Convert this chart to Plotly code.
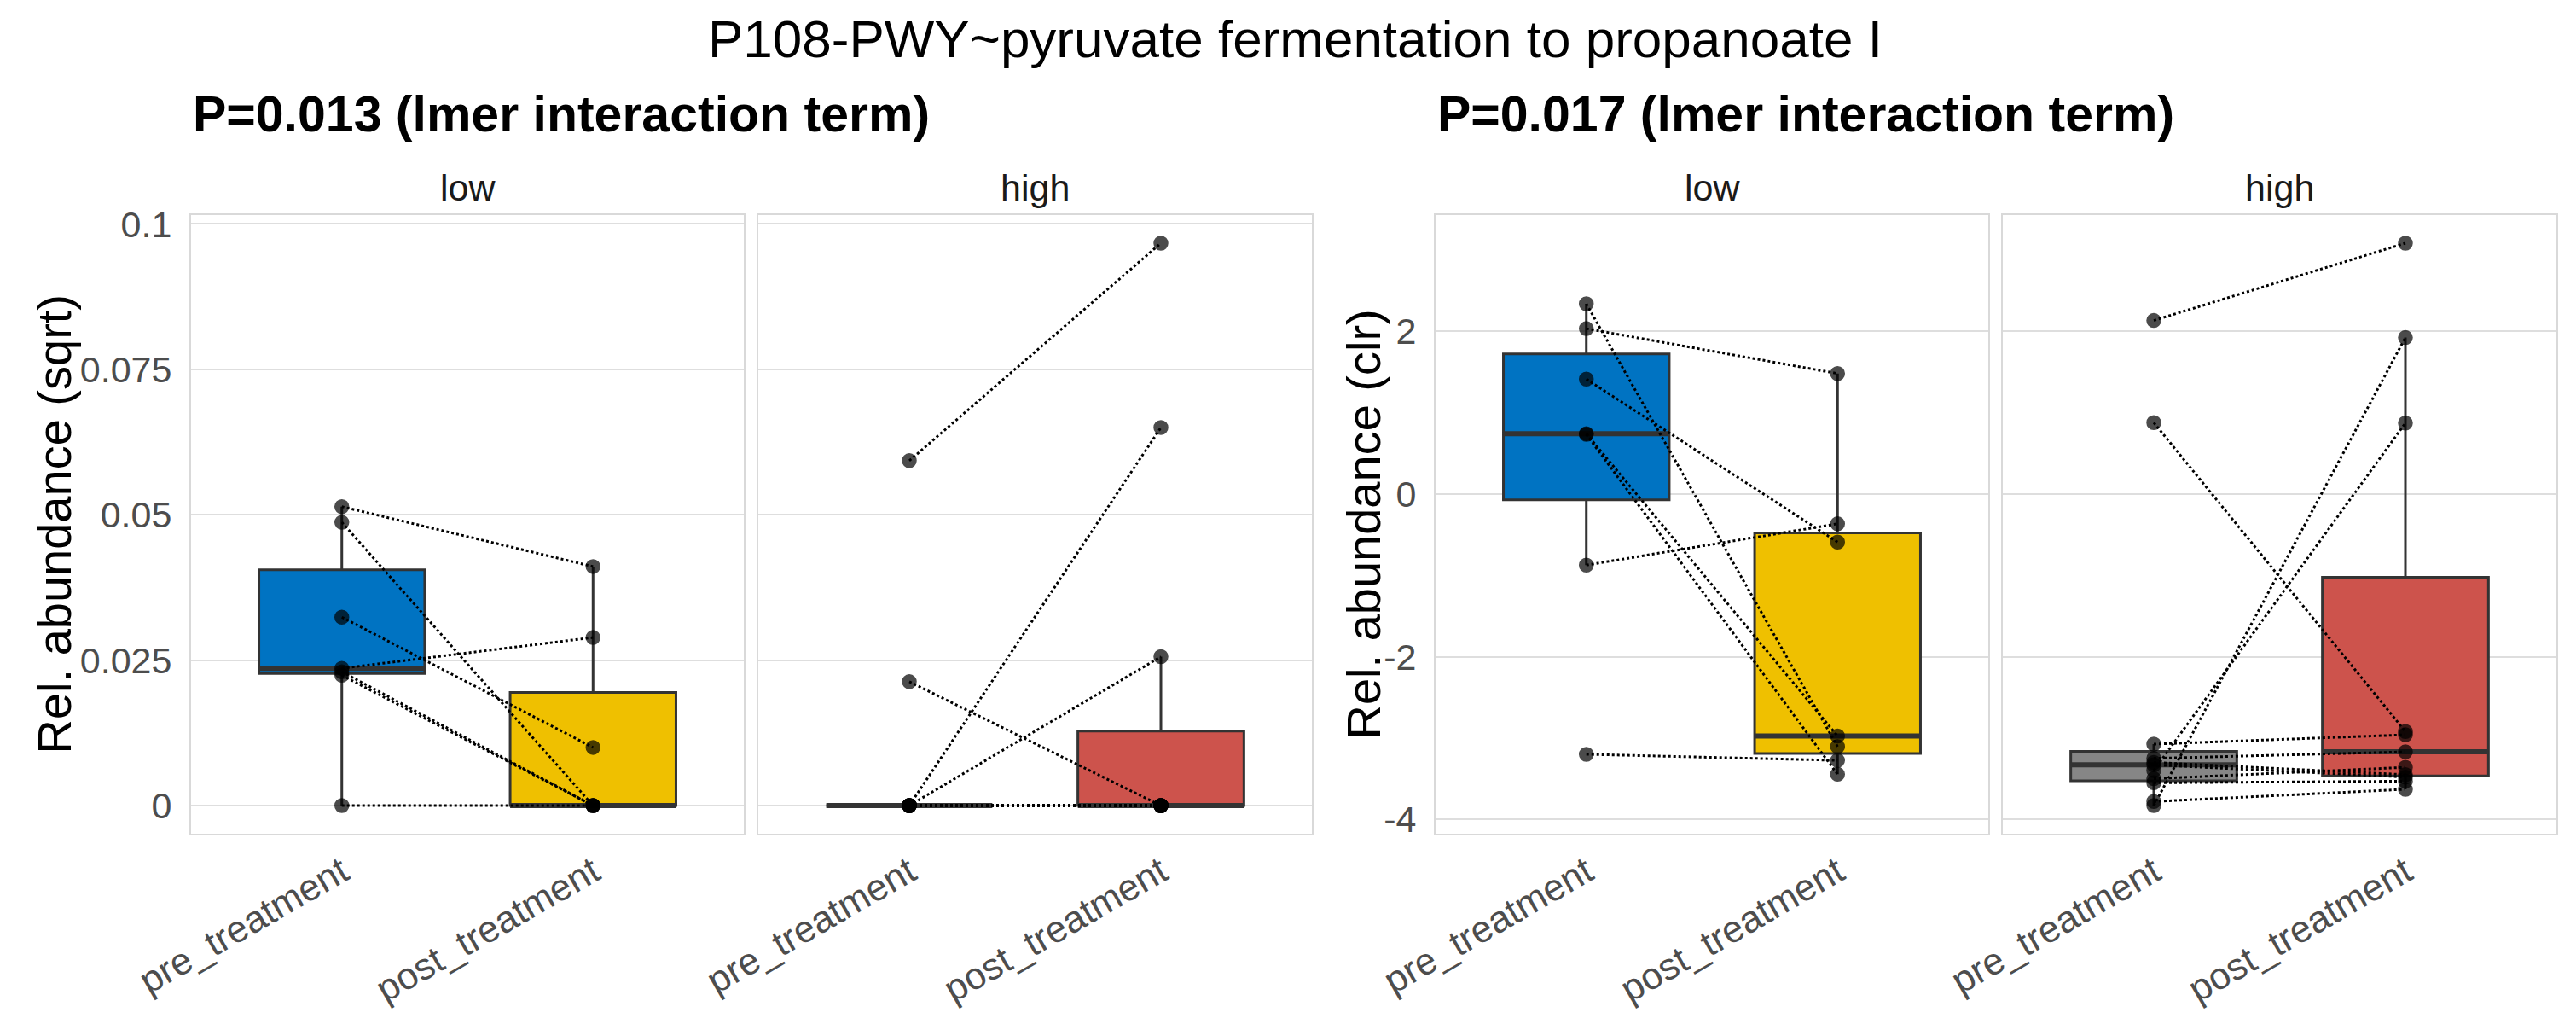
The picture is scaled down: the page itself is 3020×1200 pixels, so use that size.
import numpy as np
import plotly.graph_objects as go

W, H = 3020, 1200

timepoints = ["pre_treatment", "post_treatment"]
facets = ["low", "high"]
box_colors = {"low": ["#0073C2", "#EFC000"], "high": ["#868686", "#CD534C"]}

# paired subjects: pre[i] -> post[i]
sqrt_low_pre = [0.0514, 0.0487, 0.0324, 0.0236, 0.0230, 0.0224, 0.0]
sqrt_low_post = [0.0411, 0.0, 0.0100, 0.0289, 0.0, 0.0, 0.0]
sqrt_high_pre = [0.0593, 0.0213, 0.0, 0.0, 0.0, 0.0, 0.0, 0.0, 0.0, 0.0, 0.0]
sqrt_high_post = [0.0967, 0.0, 0.0650, 0.0256, 0.0, 0.0, 0.0, 0.0, 0.0, 0.0, 0.0]

clr_low_pre = [2.335, 2.03, 1.41, 0.74, 0.73, -0.875, -3.20]
clr_low_post = [-3.105, 1.478, -0.592, -2.975, -3.445, -0.368, -3.275]
clr_high_pre = [2.13, 0.875, -3.075, -3.25, -3.30, -3.33, -3.40, -3.50, -3.55, -3.78, -3.83]
clr_high_post = [3.08, -2.92, -2.96, -3.17, -3.45, -3.48, 0.87, -3.36, -3.53, -3.63, 1.92]

sqrt_ticks = [0, 0.025, 0.05, 0.075, 0.1]
sqrt_ticktext = ["0", "0.025", "0.05", "0.075", "0.1"]
clr_ticks = [-4, -2, 0, 2]
clr_ticktext = ["-4", "-2", "0", "2"]

main_title = "P108-PWY~pyruvate fermentation to propanoate I"
p_labels = ["P=0.013 (lmer interaction term)", "P=0.017 (lmer interaction term)"]
y_titles = ["Rel. abundance (sqrt)", "Rel. abundance (clr)"]

FONT = "Liberation Sans, Arial, sans-serif"
BOX_W = 0.66

# panel geometry in pixels
panel_x = [(216, 864), (881, 1530), (1675, 2323), (2340, 2989)]
panel_y = (244, 969)


def box_stats(v):
    v = np.asarray(v, dtype=float)
    q1, med, q3 = np.percentile(v, [25, 50, 75])
    iqr = q3 - q1
    lo = v[v >= q1 - 1.5 * iqr].min()
    hi = v[v <= q3 + 1.5 * iqr].max()
    return q1, med, q3, lo, hi


def yrange(*series):
    allv = np.concatenate([np.asarray(s, dtype=float) for s in series])
    lo, hi = allv.min(), allv.max()
    pad = (hi - lo) * 0.05
    return [lo - pad, hi + pad]


panels = [
    (sqrt_low_pre, sqrt_low_post, "low"),
    (sqrt_high_pre, sqrt_high_post, "high"),
    (clr_low_pre, clr_low_post, "low"),
    (clr_high_pre, clr_high_post, "high"),
]

fig = go.Figure()

# boxes first so they sit under the lines and points
for i, (pre, post, facet) in enumerate(panels):
    xa, ya = f"x{i + 1}", f"y{i + 1}"
    for j, vals in enumerate([pre, post]):
        q1, med, q3, lo, hi = box_stats(vals)
        fig.add_trace(go.Box(
            x=[j + 1], q1=[q1], median=[med], q3=[q3], lowerfence=[lo], upperfence=[hi],
            orientation="v", width=BOX_W, whiskerwidth=0, boxpoints=False,
            fillcolor=box_colors[facet][j], line=dict(color="#333333", width=3),
            xaxis=xa, yaxis=ya, showlegend=False, hoverinfo="skip"))

for i, (pre, post, facet) in enumerate(panels):
    xa, ya = f"x{i + 1}", f"y{i + 1}"
    # thicker median bar like ggplot
    for j, vals in enumerate([pre, post]):
        med = float(np.median(vals))
        fig.add_trace(go.Scatter(
            x=[j + 1 - BOX_W / 2, j + 1 + BOX_W / 2], y=[med, med], mode="lines",
            line=dict(color="#333333", width=6), xaxis=xa, yaxis=ya,
            showlegend=False, hoverinfo="skip"))
    lx, ly = [], []
    for a, b in zip(pre, post):
        lx += [1, 2, None]
        ly += [a, b, None]
    fig.add_trace(go.Scatter(
        x=lx, y=ly, mode="lines", line=dict(color="black", width=3, dash="3px,3px"),
        xaxis=xa, yaxis=ya, showlegend=False, hoverinfo="skip"))
    fig.add_trace(go.Scatter(
        x=[1] * len(pre) + [2] * len(post), y=list(pre) + list(post), mode="markers",
        marker=dict(color="black", opacity=0.7, size=16, line=dict(width=1.5, color="black")),
        xaxis=xa, yaxis=ya, showlegend=False))

layout = dict(
    width=W, height=H, margin=dict(l=0, r=0, t=0, b=0),
    plot_bgcolor="white", paper_bgcolor="white",
    font=dict(family=FONT, color="#4D4D4D"),
)

y_dom = [1 - panel_y[1] / H, 1 - panel_y[0] / H]
ranges = [yrange(sqrt_low_pre, sqrt_low_post, sqrt_high_pre, sqrt_high_post),
          yrange(clr_low_pre, clr_low_post, clr_high_pre, clr_high_post)]

for i, (x0, x1) in enumerate(panel_x):
    n = i + 1
    group = i // 2
    layout[f"xaxis{n}"] = dict(
        domain=[x0 / W, x1 / W], anchor=f"y{n}", range=[0.4, 2.6],
        tickvals=[1, 2], ticktext=timepoints, tickangle=-30,
        tickfont=dict(size=44, color="#4D4D4D"), showgrid=False, zeroline=False,
        showline=True, mirror=True, linecolor="#D9D9D9", linewidth=2, ticks="",
        automargin=False)
    layout[f"yaxis{n}"] = dict(
        domain=y_dom, anchor=f"x{n}", range=ranges[group],
        tickvals=sqrt_ticks if group == 0 else clr_ticks,
        ticktext=sqrt_ticktext if group == 0 else clr_ticktext,
        tickfont=dict(size=43, color="#4D4D4D"), showgrid=True, gridcolor="#DEDEDE",
        gridwidth=2, zeroline=False, showline=True, mirror=True, linecolor="#D9D9D9",
        linewidth=2, ticks="", ticklabelstandoff=12, automargin=False,
        showticklabels=(i % 2 == 0))

annotations = [dict(
    text=main_title, x=0.5, y=1 - 37 / H, xref="paper", yref="paper",
    xanchor="center", yanchor="middle", showarrow=False,
    font=dict(size=62, color="black", family=FONT))]
for g in range(2):
    annotations.append(dict(
        text=f"<b>{p_labels[g]}</b>", x=panel_x[2 * g][0] / W, y=1 - 126 / H,
        xref="paper", yref="paper", xanchor="left", yanchor="middle", showarrow=False,
        font=dict(size=59, color="black", family=FONT)))
    annotations.append(dict(
        text=y_titles[g], x=(55 if g == 0 else 1590) / W, y=1 - sum(panel_y) / 2 / H,
        xref="paper", yref="paper", xanchor="center", yanchor="middle", textangle=-90,
        showarrow=False, font=dict(size=56, color="black", family=FONT)))
for i, (x0, x1) in enumerate(panel_x):
    annotations.append(dict(
        text=facets[i % 2], x=(x0 + x1) / 2 / W, y=1 - 212 / H, xref="paper", yref="paper",
        xanchor="center", yanchor="middle", showarrow=False,
        font=dict(size=43, color="#1A1A1A", family=FONT)))
layout["annotations"] = annotations

fig.update_layout(**layout)
fig.write_html("out.html")
